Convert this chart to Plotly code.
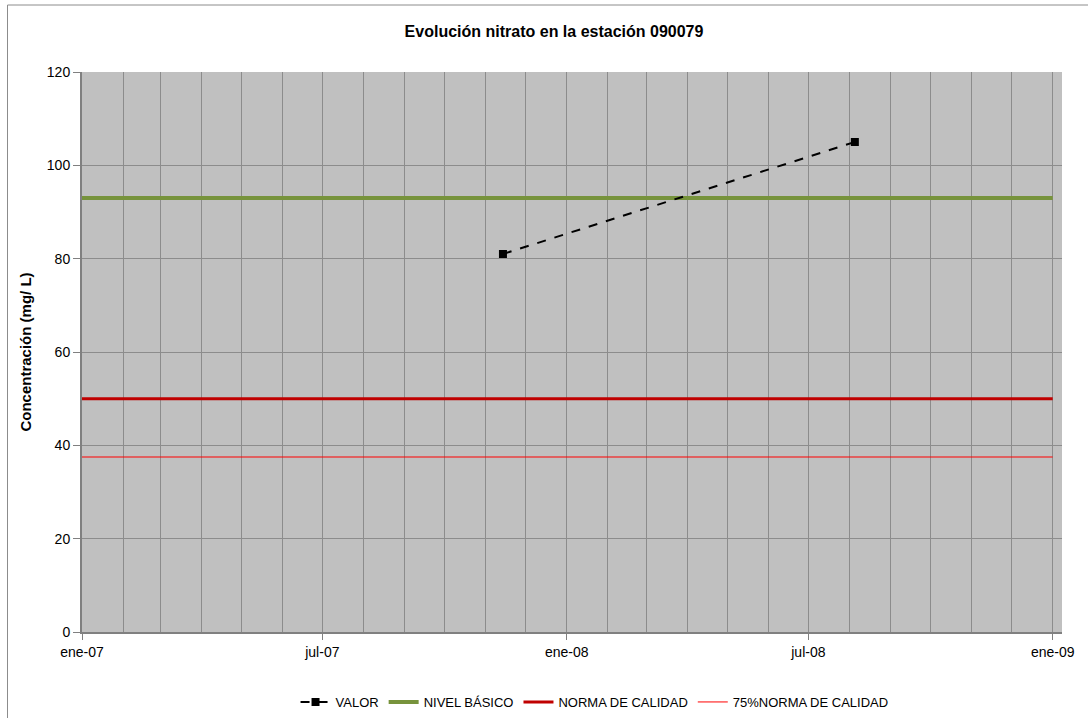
import plotly.graph_objects as go

# ---- data ----
valor_dates = ["2007-11-14", "2008-08-05"]
valor_values = [81, 105]

ref_dates = ["2007-01-01", "2009-01-01"]
nivel_basico = [93, 93]
norma_calidad = [50, 50]
norma_75 = [37.5, 37.5]

x_tick_dates = ["2007-01-01", "2007-07-01", "2008-01-01", "2008-07-01", "2009-01-01"]
x_tick_labels = ["ene-07", "jul-07", "ene-08", "jul-08", "ene-09"]
y_tick_vals = [0, 20, 40, 60, 80, 100, 120]

FONT = "Liberation Sans, Arial, sans-serif"

fig = go.Figure()

fig.add_trace(go.Scatter(
    x=ref_dates, y=nivel_basico, mode="lines", name="NIVEL BÁSICO",
    line=dict(color="#77933C", width=4), legendrank=2))
fig.add_trace(go.Scatter(
    x=ref_dates, y=norma_calidad, mode="lines", name="NORMA DE CALIDAD",
    line=dict(color="#C00000", width=3), legendrank=3))
fig.add_trace(go.Scatter(
    x=ref_dates, y=norma_75, mode="lines", name="75%NORMA DE CALIDAD",
    line=dict(color="#FF0000", width=1), legendrank=4))
fig.add_trace(go.Scatter(
    x=valor_dates, y=valor_values, mode="lines+markers", name="VALOR",
    line=dict(color="black", width=2, dash="dash"),
    marker=dict(symbol="square", size=8, color="black"), legendrank=1))

fig.update_layout(
    width=1088, height=718,
    margin=dict(l=82, r=26, t=72, b=86, autoexpand=False),
    paper_bgcolor="white",
    plot_bgcolor="#C0C0C0",
    font=dict(family=FONT, size=14, color="black"),
    title=dict(text="<b>Evolución nitrato en la estación 090079</b>",
               x=554 / 1088, xanchor="center", xref="container",
               y=1 - 31 / 718, yanchor="middle", yref="container",
               font=dict(family=FONT, size=16, color="black")),
    showlegend=True,
    legend=dict(orientation="h", x=0.523, xanchor="center",
                y=(632 - 702) / 560, yanchor="middle",
                font=dict(family=FONT, size=13, color="black"),
                bgcolor="rgba(0,0,0,0)", traceorder="normal"),
    xaxis=dict(
        type="date",
        range=["2007-01-01", "2009-01-08"],
        tickmode="array", tickvals=x_tick_dates, ticktext=x_tick_labels,
        ticks="outside", ticklen=6, tickcolor="#808080",
        showline=True, linecolor="#808080", linewidth=2,
        showgrid=True, gridcolor="#8C8C8C", gridwidth=1,
        minor=dict(dtick="M1", tick0="2007-01-01", showgrid=True,
                   gridcolor="#8C8C8C", gridwidth=1, ticks=""),
        zeroline=False,
        tickfont=dict(family=FONT, size=14, color="black"),
        automargin=False,
    ),
    yaxis=dict(
        range=[0, 120],
        tickmode="array", tickvals=y_tick_vals,
        ticks="outside", ticklen=7, tickcolor="#808080",
        showline=True, linecolor="#808080", linewidth=2,
        showgrid=True, gridcolor="#8C8C8C", gridwidth=1,
        zeroline=False,
        tickfont=dict(family=FONT, size=14, color="black"),
        title=dict(text="<b>Concentración (mg/ L)</b>", standoff=12,
                   font=dict(family=FONT, size=15, color="black")),
        automargin=False,
    ),
)

# outer chart border
fig.add_shape(type="rect", xref="paper", yref="paper",
              x0=(7.5 - 82) / 980, x1=1.2,
              y0=-0.3, y1=(632 - 5) / 560,
              line=dict(color="#8C8C8C", width=1), fillcolor="rgba(0,0,0,0)",
              layer="below")

fig.write_html("out.html", config={"displayModeBar": False},
               post_script="document.body.style.margin='0';")
